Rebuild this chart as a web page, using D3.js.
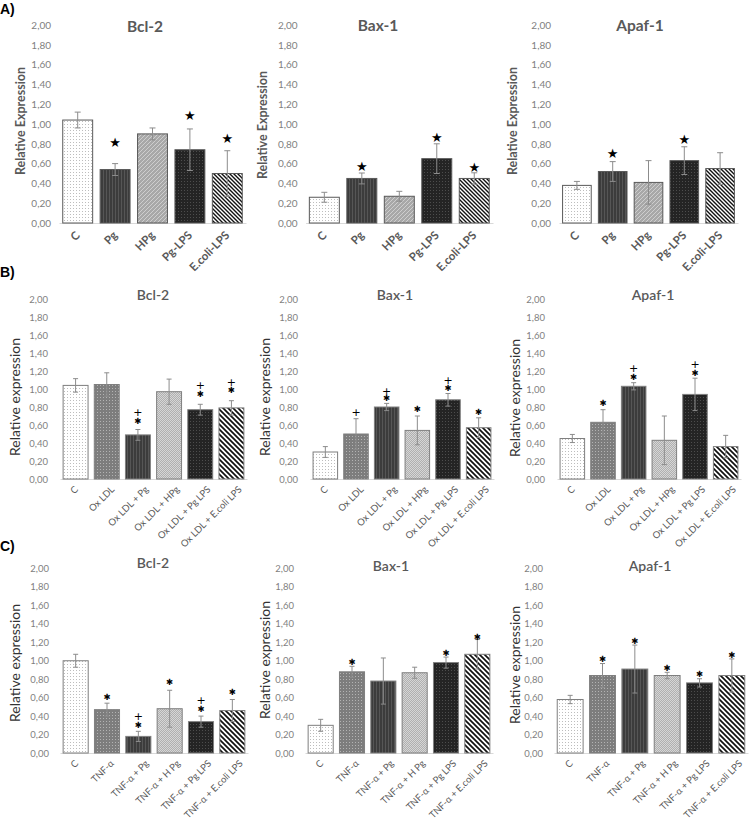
<!DOCTYPE html>
<html><head><meta charset="utf-8">
<script src="https://cdn.jsdelivr.net/npm/d3@7"></script>
<style>body{margin:0;background:#fff} svg{display:block}</style>
</head><body>
<svg id="chart" width="750" height="821"></svg>
<script>
// ---------- DATA ----------
const catsA = ["C", "Pg", "HPg", "Pg-LPS", "E.coli-LPS"];
const catsB = ["C", "Ox LDL", "Ox LDL + Pg", "Ox LDL + HPg", "Ox LDL + Pg LPS", "Ox LDL + E.coli LPS"];
const catsC = ["C", "TNF-α", "TNF-α + Pg", "TNF-α + H Pg", "TNF-α + Pg LPS", "TNF-α + E.coli LPS"];
const yTicks = [0, 0.2, 0.4, 0.6, 0.8, 1.0, 1.2, 1.4, 1.6, 1.8, 2.0];
const titles = ["Bcl-2", "Bax-1", "Apaf-1"];
const panelLetters = ["A)", "B)", "C)"];

// Row A
const aBcl2 = [1.04, 0.54, 0.90, 0.74, 0.50];
const aBcl2Err = [0.08, 0.06, 0.06, 0.21, 0.23];
const aBcl2Star = [null, 0.81, null, 1.09, 0.86];
const aBax1 = [0.26, 0.45, 0.27, 0.65, 0.45];
const aBax1Err = [0.05, 0.055, 0.05, 0.15, 0.057];
const aBax1Star = [null, 0.57, null, 0.87, 0.56];
const aApaf1 = [0.38, 0.52, 0.41, 0.63, 0.55];
const aApaf1Err = [0.04, 0.10, 0.22, 0.14, 0.16];
const aApaf1Star = [null, 0.70, null, 0.85, null];

// Row B
const bBcl2 = [1.04, 1.05, 0.49, 0.97, 0.77, 0.79];
const bBcl2Err = [0.075, 0.13, 0.06, 0.14, 0.06, 0.08];
const bBcl2Star = [null, null, 0.65, null, 0.95, 0.985];
const bBcl2Plus = [null, null, 0.74, null, 1.04, 1.08];
const bBax1 = [0.30, 0.50, 0.80, 0.54, 0.88, 0.57];
const bBax1Err = [0.06, 0.17, 0.04, 0.16, 0.07, 0.11];
const bBax1Star = [null, null, 0.90, 0.78, 1.01, 0.75];
const bBax1Plus = [null, 0.74, 0.98, null, 1.10, null];
const bApaf1 = [0.45, 0.63, 1.03, 0.43, 0.94, 0.36];
const bApaf1Err = [0.045, 0.14, 0.04, 0.27, 0.18, 0.125];
const bApaf1Star = [null, 0.84, 1.13, null, 1.18, null];
const bApaf1Plus = [null, null, 1.23, null, 1.28, null];

// Row C
const cBcl2 = [1.00, 0.47, 0.18, 0.48, 0.34, 0.46];
const cBcl2Err = [0.07, 0.07, 0.055, 0.20, 0.06, 0.12];
const cBcl2Star = [null, 0.61, 0.30, 0.765, 0.48, 0.66];
const cBcl2Plus = [null, null, 0.40, null, 0.57, null];
const cBax1 = [0.30, 0.88, 0.78, 0.87, 0.98, 1.07];
const cBax1Err = [0.065, 0.06, 0.25, 0.06, 0.06, 0.16];
const cBax1Star = [null, 0.99, null, null, 1.08, 1.26];
const cBax1Plus = [null, null, null, null, null, null];
const cApaf1 = [0.58, 0.84, 0.91, 0.84, 0.76, 0.84];
const cApaf1Err = [0.045, 0.13, 0.26, 0.035, 0.045, 0.18];
const cApaf1Star = [null, 1.02, 1.22, 0.92, 0.86, 1.065];
const cApaf1Plus = [null, null, null, null, null, null];

// ---------- LAYOUT / STYLE ----------
const svg = d3.select("#chart");
const defs = svg.append("defs");
function pattern(id, w, h, bg, draw) {
  const p = defs.append("pattern").attr("id", id)
    .attr("patternUnits", "userSpaceOnUse").attr("width", w).attr("height", h);
  p.append("rect").attr("width", w).attr("height", h).attr("fill", bg);
  draw(p);
}
pattern("pDotsWhite", 3, 3, "#ffffff", p => p.append("rect").attr("x", 1).attr("y", 1).attr("width", 1).attr("height", 1).attr("fill", "#bdbdbd"));
pattern("pVLines", 3, 3, "#3c3c3c", p => p.append("rect").attr("x", 1).attr("y", 0).attr("width", 0.8).attr("height", 3).attr("fill", "#5c5c5c"));
pattern("pDiagLight", 4, 4, "#a8a8a8", p => p.append("path").attr("d", "M0,4L4,0M-1,1L1,-1M3,5L5,3").attr("stroke", "#d2d2d2").attr("stroke-width", 0.9));
pattern("pDotsBlack", 3, 3, "#242424", p => p.append("rect").attr("x", 1).attr("y", 1).attr("width", 1).attr("height", 1).attr("fill", "#4d4d4d"));
pattern("pStripes", 4, 4, "#ffffff", p => p.append("path").attr("d", "M0,0L4,4M-1,3L1,5M3,-1L5,1").attr("stroke", "#111").attr("stroke-width", 1.4));
pattern("pStripesB", 5, 5, "#ffffff", p => p.append("path").attr("d", "M0,0L5,5M-1,4L1,6M4,-1L6,1").attr("stroke", "#111").attr("stroke-width", 1.7));
pattern("pDotsGray", 3, 3, "#7d7d7d", p => p.append("rect").attr("x", 1).attr("y", 1).attr("width", 1).attr("height", 1).attr("fill", "#b3b3b3"));
pattern("pChecker", 2, 2, "#b0b0b0", p => { p.append("rect").attr("width", 1).attr("height", 1).attr("fill", "#d6d6d6"); p.append("rect").attr("x", 1).attr("y", 1).attr("width", 1).attr("height", 1).attr("fill", "#d6d6d6"); });

const fillsA = ["url(#pDotsWhite)", "url(#pVLines)", "url(#pDiagLight)", "url(#pDotsBlack)", "url(#pStripes)"];
const fillsBC = ["url(#pDotsWhite)", "url(#pDotsGray)", "url(#pVLines)", "url(#pChecker)", "url(#pDotsBlack)", "url(#pStripesB)"];

const rows = [
  { top: 25, base: 223, cats: catsA, fills: fillsA, bold: true, yLabel: "Relative Expression",
    xr: [[59, 246], [305.6, 493], [559, 738]], tickGap: 8, titleY: [32, 31, 31], titleX: [145, 378, 640],
    yLabX: [21, 263, 513], yLabY: [121, 125, 121] },
  { top: 299, base: 479, cats: catsB, fills: fillsBC, bold: false, yLabel: "Relative expression",
    xr: [[60, 247], [310, 494], [557, 741]], tickGap: 12, titleY: [300, 300, 300], titleX: [153, 395, 653],
    yLabX: [15, 265, 515], yLabY: [397, 397, 398] },
  { top: 568.5, base: 753, cats: catsC, fills: fillsBC, bold: false, yLabel: "Relative expression",
    xr: [[60, 248], [305, 493], [554, 748]], tickGap: 11, titleY: [568, 571, 571], titleX: [153, 391, 650],
    yLabX: [15, 265, 515], yLabY: [663, 660, 665] }
];

const panelData = [
  [[aBcl2, aBcl2Err, aBcl2Star, null], [aBax1, aBax1Err, aBax1Star, null], [aApaf1, aApaf1Err, aApaf1Star, null]],
  [[bBcl2, bBcl2Err, bBcl2Star, bBcl2Plus], [bBax1, bBax1Err, bBax1Star, bBax1Plus], [bApaf1, bApaf1Err, bApaf1Star, bApaf1Plus]],
  [[cBcl2, cBcl2Err, cBcl2Star, cBcl2Plus], [cBax1, cBax1Err, cBax1Star, cBax1Plus], [cApaf1, cApaf1Err, cApaf1Star, cApaf1Plus]]
];

const fmt = v => v.toFixed(2).replace(".", ",");
const FONT = "Lato, 'Open Sans', sans-serif";

// panel letters
const letterY = [14, 277, 551];
panelLetters.forEach((t, i) => {
  svg.append("text").attr("x", 0).attr("y", letterY[i]).text(t)
    .attr("font-family", "'Liberation Sans', Arial, sans-serif").attr("font-weight", "bold")
    .attr("font-size", 14).attr("fill", "#000");
});

rows.forEach((row, ri) => {
  for (let ci = 0; ci < 3; ci++) {
    const [vals, errs, stars, pluses] = panelData[ri][ci];
    const g = svg.append("g");
    const x = d3.scaleBand().domain(row.cats).range(row.xr[ci]).paddingInner(0.2).paddingOuter(0.1);
    const y = d3.scaleLinear().domain([0, 2]).range([row.base, row.top]);

    // y axis (labels only)
    const ya = d3.axisLeft(y).tickValues(yTicks).tickFormat(fmt).tickSize(0).tickPadding(row.tickGap);
    const yg = g.append("g").attr("transform", `translate(${row.xr[ci][0]},0)`).call(ya);
    yg.select(".domain").remove();
    yg.selectAll("text").attr("font-family", FONT).attr("font-size", ri === 0 ? 10 : 9.5).attr("fill", "#7f7f7f");

    // baseline axis
    const xa = d3.axisBottom(x).tickSize(0).tickFormat("");
    const xg = g.append("g").attr("transform", `translate(0,${row.base})`).call(xa);
    xg.select(".domain").attr("stroke", "#d9d9d9").attr("stroke-width", 1);

    // bars
    g.selectAll("rect.bar").data(vals).join("rect").attr("class", "bar")
      .attr("x", (d, i) => x(row.cats[i]))
      .attr("width", x.bandwidth())
      .attr("y", d => y(d))
      .attr("height", d => y(0) - y(d))
      .attr("fill", (d, i) => row.fills[i])
      .attr("stroke", ri === 0 ? "#595959" : "#7f7f7f")
      .attr("stroke-width", 1);

    // error bars
    const cx = i => x(row.cats[i]) + x.bandwidth() / 2;
    const cap = ri === 0 ? 3 : 2.5;
    const eb = g.selectAll("g.err").data(vals).join("g").attr("class", "err")
      .attr("stroke", "#8c8c8c").attr("stroke-width", 1);
    eb.append("line").attr("x1", (d, i) => cx(i)).attr("x2", (d, i) => cx(i))
      .attr("y1", (d, i) => y(d + errs[i])).attr("y2", (d, i) => y(d - errs[i]));
    eb.append("line").attr("x1", (d, i) => cx(i) - cap).attr("x2", (d, i) => cx(i) + cap)
      .attr("y1", (d, i) => y(d + errs[i])).attr("y2", (d, i) => y(d + errs[i]));
    eb.append("line").attr("x1", (d, i) => cx(i) - cap).attr("x2", (d, i) => cx(i) + cap)
      .attr("y1", (d, i) => y(d - errs[i])).attr("y2", (d, i) => y(d - errs[i]));

    // significance marks
    stars.forEach((s, i) => {
      if (s == null) return;
      g.append("text").attr("x", cx(i)).attr("y", y(s)).attr("dy", "0.36em")
        .attr("text-anchor", "middle").attr("font-family", "'DejaVu Sans', sans-serif")
        .attr("font-size", ri === 0 ? 13 : 8.5).attr("fill", "#000")
        .text(ri === 0 ? "★" : "✱");
    });
    if (pluses) pluses.forEach((s, i) => {
      if (s == null) return;
      g.append("text").attr("x", cx(i)).attr("y", y(s)).attr("dy", "0.34em")
        .attr("text-anchor", "middle").attr("font-family", "'DejaVu Sans', sans-serif")
        .attr("font-size", 11).attr("fill", "#000").text("+");
    });

    // x labels
    const xl = g.selectAll("text.xl").data(row.cats).join("text").attr("class", "xl")
      .attr("text-anchor", "end")
      .attr("font-family", FONT).attr("font-size", ri === 0 ? 11.5 : 9.5)
      .attr("font-weight", row.bold ? "bold" : "normal")
      .attr("fill", "#595959").text(d => d);
    xl.attr("transform", function (d, i) {
      const len = this.getComputedTextLength();
      const off = ri === 0 ? 3 : Math.min(11, 2 + len * 0.2);
      return `translate(${cx(i) + off},${row.base + (ri === 0 ? 13 : 11)}) rotate(-45)`;
    });

    // title
    g.append("text").attr("x", row.titleX[ci]).attr("y", row.titleY[ci]).attr("text-anchor", "middle")
      .attr("font-family", FONT).attr("font-size", ri === 0 ? 15.5 : 14)
      .attr("font-weight", ri === 0 ? "bold" : "600").attr("fill", "#595959").text(titles[ci]);

    // y label
    g.append("text").attr("transform", `translate(${row.yLabX[ci]},${row.yLabY[ci]}) rotate(-90)`)
      .attr("text-anchor", "middle").attr("dy", "0.35em")
      .attr("font-family", FONT).attr("font-size", ri === 0 ? 12.5 : 14)
      .attr("font-weight", ri === 0 ? "bold" : "normal")
      .attr("fill", ri === 0 ? "#595959" : "#333").text(row.yLabel);
  }
});
</script>
</body></html>
